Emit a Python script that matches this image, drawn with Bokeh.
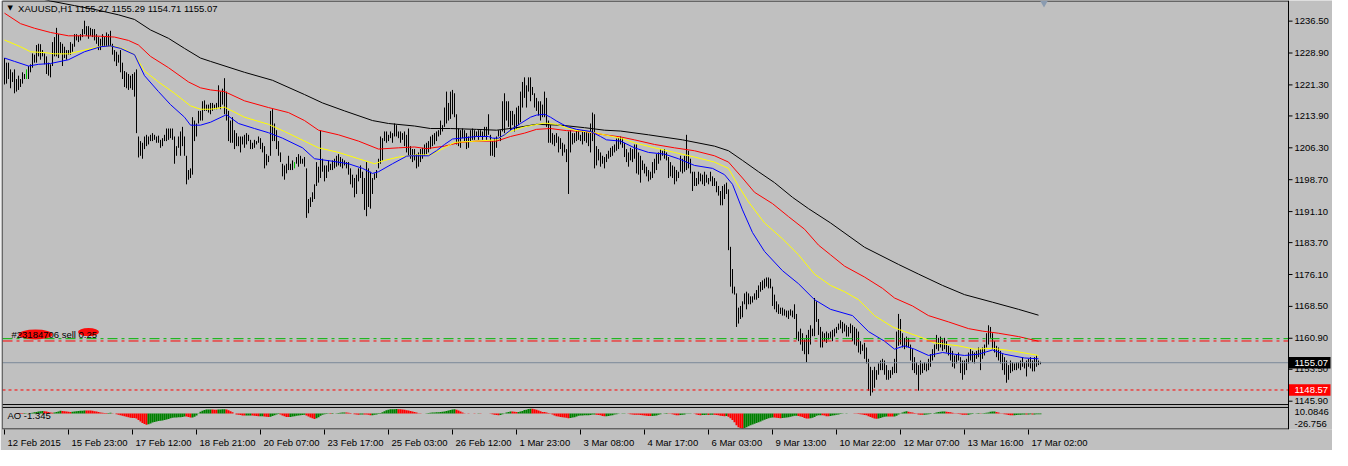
import numpy as np
import pandas as pd
from bokeh.plotting import figure
from bokeh.models import Range1d, FixedTicker, Span, Label
from bokeh.core.properties import value
from bokeh.embed import file_html
from bokeh.resources import INLINE

# ---------------- data ----------------
symbol_title = "XAUUSD,H1  1155.27 1155.29 1154.71 1155.07"
ao_title = "AO -1.345"

highs = [
    1227.7, 1226.6, 1226.6, 1225.0, 1224.3, 1225.0, 1222.7, 1223.5, 1222.7, 1224.3,
    1223.9, 1225.0, 1225.8, 1226.2, 1228.8, 1228.5, 1230.8, 1231.1, 1231.0, 1229.6,
    1228.8, 1228.1, 1226.6, 1226.2, 1231.5, 1232.7, 1234.9, 1233.4, 1231.5, 1231.1,
    1230.4, 1229.6, 1229.6, 1231.5, 1231.1, 1233.4, 1233.4, 1233.0, 1233.4, 1234.6,
    1236.6, 1235.3, 1235.3, 1234.9, 1234.6, 1234.6, 1233.4, 1232.7, 1232.3, 1233.4,
    1232.7, 1233.8, 1233.4, 1234.2, 1231.1, 1229.6, 1229.2, 1228.5, 1229.6, 1226.6,
    1224.6, 1224.3, 1223.9, 1223.5, 1223.9, 1224.3, 1225.0, 1209.0, 1207.9, 1207.5,
    1209.0, 1209.4, 1209.0, 1209.4, 1209.8, 1209.4, 1209.0, 1209.2, 1208.2, 1208.6,
    1209.4, 1210.9, 1210.9, 1210.9, 1210.9, 1209.0, 1206.7, 1209.0, 1210.2, 1211.3,
    1209.0, 1204.4, 1201.0, 1201.4, 1213.6, 1212.8, 1212.1, 1215.1, 1215.1, 1217.4,
    1217.6, 1216.6, 1216.6, 1217.0, 1217.0, 1216.6, 1217.0, 1221.2, 1219.7, 1220.4,
    1222.9, 1219.7, 1215.1, 1212.8, 1213.6, 1210.5, 1209.8, 1209.0, 1209.0, 1209.0,
    1209.4, 1209.8, 1209.4, 1208.2, 1207.5, 1208.2, 1207.9, 1209.0, 1208.6, 1207.5,
    1206.7, 1204.8, 1204.4, 1215.1, 1215.5, 1212.1, 1210.5, 1207.9, 1205.2, 1202.5,
    1202.1, 1202.5, 1204.4, 1202.5, 1203.3, 1202.9, 1204.1, 1204.8, 1204.4, 1203.7,
    1204.1, 1201.4, 1194.1, 1194.5, 1195.7, 1197.6, 1202.9, 1201.8, 1210.5, 1203.7,
    1202.1, 1202.1, 1203.3, 1202.5, 1203.3, 1203.7, 1204.4, 1204.8, 1204.1, 1203.7,
    1203.3, 1202.9, 1202.9, 1201.4, 1199.9, 1199.1, 1199.9, 1201.4, 1202.1, 1200.6,
    1199.1, 1202.9, 1201.4, 1200.6, 1199.1, 1200.2, 1201.0, 1203.7, 1209.0, 1208.6,
    1210.2, 1210.2, 1209.4, 1210.2, 1209.8, 1212.1, 1211.7, 1210.2, 1210.2, 1209.8,
    1210.2, 1209.4, 1210.9, 1206.7, 1206.0, 1206.0, 1204.8, 1205.2, 1206.0, 1206.3,
    1207.1, 1207.5, 1207.9, 1209.0, 1209.4, 1209.8, 1210.2, 1210.5, 1212.8, 1211.7,
    1215.9, 1219.7, 1217.0, 1219.7, 1220.1, 1219.3, 1214.3, 1210.9, 1210.5, 1210.9,
    1210.5, 1209.8, 1209.0, 1210.5, 1210.9, 1210.5, 1210.2, 1210.5, 1210.5, 1210.2,
    1211.3, 1211.3, 1214.3, 1209.4, 1207.9, 1208.6, 1209.0, 1210.5, 1210.5, 1217.4,
    1219.3, 1217.4, 1217.4, 1215.1, 1215.1, 1214.3, 1215.9, 1216.3, 1219.7, 1222.0,
    1223.1, 1221.2, 1223.1, 1223.1, 1220.8, 1219.3, 1218.2, 1217.4, 1217.4, 1216.6,
    1219.7, 1218.2, 1212.8, 1211.7, 1209.8, 1209.4, 1209.8, 1209.0, 1208.6, 1207.5,
    1207.1, 1206.0, 1210.2, 1210.5, 1209.8, 1209.8, 1210.5, 1210.5, 1209.4, 1210.5,
    1210.2, 1210.2, 1209.8, 1212.1, 1214.7, 1214.3, 1206.7, 1206.0, 1205.2, 1204.4,
    1204.1, 1204.8, 1205.6, 1206.3, 1206.7, 1207.1, 1208.5, 1208.6, 1209.0, 1208.6,
    1207.5, 1206.0, 1205.2, 1206.3, 1206.0, 1207.1, 1207.1, 1205.2, 1204.4, 1203.3,
    1202.5, 1201.8, 1201.0, 1200.6, 1202.9, 1203.7, 1204.8, 1205.2, 1206.0, 1205.6,
    1206.0, 1205.2, 1204.1, 1202.9, 1202.1, 1201.8, 1201.0, 1200.6, 1204.4, 1203.7,
    1204.4, 1209.4, 1205.6, 1203.7, 1200.6, 1200.6, 1199.1, 1200.6, 1200.2, 1199.9,
    1200.6, 1199.9, 1199.1, 1200.6, 1199.5, 1199.1, 1198.3, 1197.2, 1196.0, 1197.2,
    1197.6, 1198.0, 1196.4, 1182.7, 1177.4, 1173.2, 1171.6, 1168.2, 1168.6, 1169.7,
    1171.6, 1172.0, 1171.6, 1170.9, 1170.9, 1171.6, 1172.4, 1173.5, 1174.3, 1174.7,
    1175.1, 1175.4, 1175.4, 1175.1, 1173.2, 1171.3, 1169.7, 1169.0, 1168.2, 1168.2,
    1167.8, 1167.5, 1167.5, 1167.8, 1167.5, 1169.0, 1166.7, 1162.5, 1163.2, 1162.1,
    1160.6, 1161.7, 1162.9, 1164.0, 1163.2, 1170.5, 1169.7, 1165.5, 1163.6, 1162.5,
    1162.1, 1162.5, 1162.1, 1162.5, 1162.9, 1163.2, 1163.6, 1164.4, 1165.2, 1164.8,
    1164.4, 1164.0, 1163.6, 1164.4, 1164.0, 1163.6, 1163.2, 1162.5, 1160.2, 1159.4,
    1159.8, 1158.7, 1156.0, 1154.1, 1153.3, 1154.1, 1153.3, 1154.9, 1155.6, 1156.0,
    1155.6, 1154.5, 1153.3, 1153.3, 1154.1, 1156.0, 1162.5, 1166.7, 1165.5, 1162.1,
    1161.0, 1161.3, 1161.0, 1159.4, 1158.3, 1156.4, 1155.2, 1154.5, 1155.6, 1154.9,
    1155.2, 1154.9, 1156.0, 1157.1, 1158.3, 1159.4, 1161.7, 1161.0, 1161.3, 1160.6,
    1161.0, 1160.2, 1159.1, 1158.7, 1157.9, 1156.8, 1157.1, 1157.5, 1156.4, 1155.6,
    1155.6, 1156.0, 1157.5, 1158.3, 1157.9, 1157.5, 1157.9, 1158.7, 1158.3, 1158.7,
    1159.4, 1162.1, 1164.0, 1163.6, 1162.1, 1160.2, 1159.1, 1158.7, 1157.9, 1157.1,
    1156.4, 1155.6, 1154.5, 1155.6, 1155.2, 1154.9, 1155.2, 1155.2, 1155.6, 1156.4,
    1155.2, 1155.6, 1156.0, 1156.4, 1155.6, 1156.4, 1156.8, 1155.6, 1155.29,
]

lows = [
    1221.4, 1221.6, 1222.7, 1220.5, 1222.0, 1219.3, 1219.7, 1220.1, 1220.8, 1221.6,
    1222.7, 1222.7, 1222.7, 1224.3, 1225.4, 1226.6, 1226.6, 1228.1, 1227.3, 1228.1,
    1226.2, 1223.9, 1223.5, 1223.1, 1225.8, 1228.1, 1228.1, 1227.7, 1228.8, 1225.8,
    1227.7, 1227.3, 1228.5, 1228.5, 1229.2, 1230.4, 1231.9, 1231.5, 1231.9, 1232.7,
    1233.4, 1233.0, 1232.3, 1233.0, 1232.7, 1231.9, 1231.1, 1229.6, 1229.6, 1230.4,
    1230.4, 1230.4, 1230.4, 1230.4, 1228.5, 1226.9, 1225.8, 1226.6, 1224.3, 1222.7,
    1220.8, 1220.5, 1220.1, 1220.5, 1220.1, 1218.5, 1209.8, 1204.0, 1204.4, 1203.7,
    1206.0, 1206.7, 1207.1, 1207.9, 1207.9, 1208.2, 1207.5, 1207.5, 1206.3, 1206.7,
    1207.9, 1207.9, 1208.2, 1208.6, 1208.2, 1202.5, 1204.4, 1206.3, 1204.4, 1206.7,
    1204.4, 1197.6, 1198.7, 1199.1, 1199.9, 1207.9, 1209.0, 1212.1, 1212.8, 1212.8,
    1215.1, 1215.1, 1214.7, 1214.3, 1215.1, 1215.5, 1215.5, 1215.9, 1215.5, 1216.6,
    1214.3, 1212.8, 1207.9, 1207.5, 1207.5, 1206.0, 1206.7, 1206.7, 1205.2, 1207.1,
    1206.3, 1207.1, 1207.9, 1206.0, 1206.0, 1206.3, 1207.1, 1207.5, 1206.0, 1205.2,
    1201.4, 1202.1, 1202.9, 1204.4, 1207.9, 1207.9, 1206.0, 1204.4, 1202.9, 1199.5,
    1198.7, 1200.2, 1201.0, 1201.0, 1201.0, 1201.4, 1202.5, 1201.8, 1202.5, 1202.5,
    1201.8, 1189.6, 1190.7, 1192.2, 1193.4, 1194.1, 1197.2, 1198.0, 1199.1, 1200.6,
    1198.3, 1199.1, 1200.6, 1201.0, 1201.0, 1201.4, 1201.8, 1202.1, 1201.8, 1201.4,
    1202.1, 1201.4, 1199.9, 1197.6, 1196.8, 1194.5, 1195.3, 1198.3, 1199.1, 1195.3,
    1191.5, 1190.0, 1192.2, 1191.8, 1195.3, 1198.7, 1199.1, 1201.4, 1202.5, 1203.3,
    1207.9, 1207.5, 1207.9, 1208.6, 1207.5, 1209.0, 1209.0, 1208.6, 1207.5, 1208.2,
    1206.7, 1205.2, 1204.4, 1203.7, 1202.9, 1203.3, 1201.4, 1201.8, 1202.9, 1203.7,
    1204.4, 1204.8, 1205.2, 1206.0, 1206.7, 1207.1, 1207.9, 1209.0, 1209.4, 1210.2,
    1211.3, 1212.1, 1212.8, 1213.2, 1214.3, 1213.6, 1207.1, 1206.7, 1206.3, 1208.6,
    1207.9, 1206.0, 1206.3, 1207.9, 1208.2, 1208.2, 1209.0, 1208.2, 1209.0, 1208.2,
    1209.0, 1208.2, 1209.4, 1204.4, 1204.4, 1204.1, 1206.3, 1209.0, 1207.9, 1210.2,
    1209.8, 1212.8, 1211.3, 1210.5, 1211.7, 1210.2, 1210.9, 1211.7, 1212.4, 1215.9,
    1218.2, 1215.9, 1219.7, 1217.4, 1218.9, 1215.9, 1215.1, 1214.0, 1212.8, 1213.6,
    1213.6, 1211.3, 1207.5, 1207.5, 1207.1, 1206.7, 1207.5, 1205.2, 1206.0, 1204.4,
    1205.2, 1202.9, 1195.3, 1205.2, 1207.1, 1207.5, 1207.9, 1208.2, 1207.9, 1207.1,
    1207.9, 1207.5, 1206.7, 1205.2, 1207.9, 1201.4, 1202.1, 1203.3, 1201.8, 1202.5,
    1201.4, 1202.9, 1203.7, 1204.1, 1204.4, 1205.2, 1205.6, 1206.0, 1207.1, 1206.3,
    1204.1, 1202.9, 1201.8, 1203.3, 1202.9, 1203.7, 1200.2, 1199.9, 1198.0, 1201.0,
    1200.2, 1199.5, 1198.3, 1198.7, 1199.1, 1200.2, 1201.0, 1202.5, 1203.3, 1204.4,
    1203.7, 1203.3, 1199.1, 1199.5, 1199.1, 1197.6, 1198.3, 1199.1, 1200.6, 1200.2,
    1200.6, 1201.0, 1201.4, 1200.2, 1196.0, 1197.2, 1197.2, 1197.6, 1198.3, 1197.6,
    1197.2, 1198.0, 1197.6, 1198.3, 1197.2, 1197.2, 1195.7, 1194.9, 1192.6, 1192.6,
    1194.1, 1195.3, 1181.9, 1173.2, 1171.6, 1171.3, 1163.6, 1164.4, 1165.5, 1165.9,
    1169.0, 1167.8, 1169.0, 1169.0, 1169.4, 1170.1, 1170.1, 1170.5, 1172.0, 1172.4,
    1172.8, 1173.2, 1172.8, 1172.8, 1168.6, 1167.8, 1167.1, 1166.7, 1166.7, 1166.3,
    1166.3, 1165.9, 1165.5, 1166.3, 1165.9, 1165.5, 1160.6, 1160.2, 1159.4, 1157.9,
    1157.1, 1155.2, 1157.1, 1159.4, 1161.4, 1161.4, 1164.8, 1161.7, 1158.7, 1158.7,
    1160.2, 1159.8, 1160.6, 1161.0, 1160.2, 1161.3, 1162.1, 1162.9, 1163.2, 1162.1,
    1162.5, 1161.3, 1161.3, 1162.1, 1160.2, 1159.4, 1159.1, 1157.5, 1157.1, 1157.9,
    1156.0, 1154.9, 1148.4, 1147.2, 1148.0, 1149.1, 1151.0, 1152.2, 1153.3, 1153.3,
    1152.2, 1151.0, 1151.0, 1151.4, 1152.2, 1152.6, 1152.6, 1159.1, 1159.4, 1158.7,
    1158.3, 1158.7, 1158.7, 1155.6, 1153.3, 1152.6, 1152.2, 1148.4, 1152.2, 1152.6,
    1153.3, 1153.0, 1153.3, 1154.1, 1155.6, 1156.4, 1158.3, 1157.9, 1158.7, 1157.9,
    1158.3, 1157.5, 1156.8, 1155.6, 1154.1, 1153.7, 1154.9, 1155.6, 1152.6, 1151.0,
    1152.2, 1153.3, 1154.9, 1155.6, 1155.2, 1154.9, 1156.0, 1156.4, 1153.3, 1156.0,
    1156.8, 1158.7, 1159.4, 1161.0, 1158.3, 1157.5, 1156.4, 1155.6, 1154.9, 1153.3,
    1152.2, 1150.3, 1151.0, 1152.6, 1153.0, 1153.3, 1153.3, 1153.7, 1153.3, 1154.1,
    1153.7, 1151.8, 1154.1, 1153.7, 1153.0, 1153.0, 1154.1, 1154.5, 1154.71,
]

doji_bars = [11, 145]

# moving averages (bar index, price)
ma_blue_x = [0, 5, 12, 17, 23, 32, 40, 48, 53, 58, 65, 70, 77, 83, 90, 93, 98, 103, 111, 117,
             125, 132, 139, 149, 155, 164, 172, 179, 184, 187, 194, 201,
             203, 212, 216, 220, 224, 236, 242, 244, 247, 250, 253, 258, 263, 266, 270, 273,
             276, 281, 286, 293, 298, 301, 308,
             315, 322, 330, 337, 345, 354, 360, 364, 369, 374, 380, 389, 397, 405, 413, 424,
             432, 440, 445, 450, 455, 462, 469, 475, 480, 487, 494, 500, 510, 517]
ma_blue_y = [1227.7, 1226.9, 1225.8, 1226.2, 1226.4, 1227.3, 1229.2, 1230.4, 1230.6, 1230.0,
             1228.5, 1223.5, 1219.7, 1216.6, 1213.6, 1211.7, 1211.7, 1212.4, 1214.2, 1212.1,
             1210.9, 1209.9, 1208.6, 1206.3, 1203.7, 1203.1, 1202.5, 1201.4, 1200.2, 1200.6,
             1202.5, 1204.3,
             1204.4, 1204.4, 1205.6, 1207.1, 1208.4, 1209.0, 1209.0, 1208.6, 1208.6, 1209.4,
             1210.5, 1212.1, 1213.6, 1214.1, 1214.3, 1213.6, 1212.7, 1211.4, 1210.7, 1210.2,
             1209.0, 1208.2, 1207.9,
             1206.3, 1205.2, 1204.8, 1203.7, 1202.1, 1201.4, 1199.9, 1197.6, 1191.5, 1186.1,
             1181.6, 1177.0, 1173.9, 1170.1, 1167.8, 1166.3, 1162.5, 1160.2, 1158.3, 1159.1,
             1158.3, 1156.8, 1157.5, 1157.1, 1156.8, 1157.1, 1158.1, 1157.1, 1156.2, 1156.0]

ma_yellow_x = [0, 8, 13, 20, 25, 32, 40, 48, 55, 60, 65, 70, 77, 85, 93, 98, 103, 110, 120, 132,
               140, 150, 157, 167, 177, 185, 190, 197, 206, 213, 220, 225, 236, 246, 253, 260,
               270, 276, 285, 296, 308, 315, 325, 335, 345, 355, 362, 367, 372, 380, 389, 397,
               405, 413, 420, 427, 435, 444, 450, 459, 465, 477, 485, 494, 504, 517]
ma_yellow_y = [1232.0, 1230.4, 1229.2, 1229.0, 1228.7, 1228.7, 1229.6, 1230.5, 1230.5, 1229.8,
               1228.5, 1224.6, 1222.0, 1219.3, 1216.3, 1215.5, 1215.5, 1216.0, 1213.6, 1211.9,
               1210.2, 1207.9, 1206.3, 1205.2, 1203.7, 1202.5, 1203.3, 1204.1, 1204.6, 1204.6,
               1206.3, 1207.6, 1207.9, 1208.2, 1210.2, 1211.3, 1212.2, 1211.9, 1210.5, 1209.8,
               1208.6, 1207.5, 1206.3, 1205.2, 1204.1, 1202.9, 1201.4, 1197.2, 1193.4, 1188.4,
               1184.6, 1180.8, 1176.2, 1173.5, 1172.0, 1170.1, 1166.3, 1163.6, 1162.5, 1161.0,
               1159.8, 1159.1, 1158.3, 1158.5, 1157.9, 1156.8]

ma_red_x = [0, 8, 15, 23, 32, 40, 48, 55, 62, 67, 73, 82, 92, 98, 103, 110, 120, 132, 142, 150,
            157, 167, 177, 187, 197, 205, 211, 220, 228, 236, 246, 253, 260, 266, 273, 281, 290,
            300, 308, 315, 325, 335, 345, 355, 362, 369, 375, 384, 392, 400, 407, 413, 420, 430,
            439, 445, 454, 462, 472, 482, 489, 497, 507, 517]
ma_red_y = [1238.4, 1235.9, 1234.8, 1233.8, 1233.0, 1233.0, 1232.9, 1232.7, 1231.9, 1230.8,
            1228.1, 1225.4, 1222.0, 1220.6, 1220.1, 1219.7, 1217.5, 1215.9, 1214.7, 1212.8,
            1210.5, 1209.4, 1207.9, 1206.0, 1206.3, 1206.5, 1206.1, 1206.7, 1207.6, 1207.9,
            1207.9, 1209.0, 1209.8, 1210.7, 1210.9, 1210.4, 1210.2, 1209.4, 1208.9, 1208.2,
            1207.1, 1206.3, 1205.6, 1204.4, 1202.9, 1199.1, 1195.7, 1193.0, 1189.9, 1186.9,
            1183.1, 1180.8, 1178.1, 1175.5, 1172.8, 1170.5, 1168.6, 1166.3, 1164.8, 1163.2,
            1162.6, 1162.1, 1161.3, 1160.2]

ma_black_x = [0, 10, 23, 35, 45, 57, 65, 73, 82, 90, 98, 103, 120, 134, 150, 159, 170, 184, 192,
              205, 213, 223, 236, 246, 256, 266, 278, 290, 300, 308, 322, 339, 355, 362, 369,
              377, 385, 394, 402, 413, 430, 447, 457, 469, 480, 494, 507, 517]
ma_black_y = [1243.5, 1242.8, 1241.3, 1240.2, 1239.3, 1238.0, 1236.9, 1234.4, 1232.4, 1230.0,
              1227.7, 1226.9, 1224.3, 1222.4, 1219.0, 1217.0, 1215.1, 1212.8, 1212.1, 1211.5,
              1210.9, 1210.9, 1210.7, 1210.5, 1211.1, 1211.9, 1211.7, 1211.1, 1210.5, 1210.3,
              1209.4, 1208.2, 1206.7, 1205.6, 1203.3, 1200.6, 1198.0, 1194.5, 1191.8, 1188.4,
              1182.6, 1178.5, 1176.2, 1173.5, 1171.3, 1169.5, 1167.8, 1166.4]

price_ticks = [1236.50, 1228.90, 1221.30, 1213.90, 1206.30, 1198.70, 1191.10,
               1183.70, 1176.10, 1168.50, 1160.90, 1153.50, 1145.90]

time_labels = ["12 Feb 2015", "15 Feb 23:00", "17 Feb 12:00", "18 Feb 21:00", "20 Feb 07:00",
               "23 Feb 17:00", "25 Feb 03:00", "26 Feb 12:00", "1 Mar 23:00", "3 Mar 08:00",
               "4 Mar 17:00", "6 Mar 03:00", "9 Mar 13:00", "10 Mar 22:00", "12 Mar 07:00",
               "13 Mar 16:00", "17 Mar 02:00"]
time_label_every = 32  # bars between time labels

bid_price = 1155.07
sl_price = 1148.57
order_price_green = 1160.80
order_price_red = 1160.25
order_text = "#23184706 sell 0.25"
ao_max, ao_min = 10.0846, -26.756
ao_max_label, ao_min_label = "10.0846", "-26.756"

# ---------------- layout / style ----------------
BG = "#c0c0c0"
FONT = "Liberation Sans"
FS = "9.5px"
W, H = 1332, 450
MIN_L, MIN_T = 2, 0
FRAME_W = W - MIN_L
PX_PER_BAR = 2
X0 = -1.0                        # left edge of the frame in bar units
N_SLOTS = FRAME_W / PX_PER_BAR
X_LEFT = X0                      # left border line
X_AXIS = X_LEFT + 643            # price-scale line

# reference geometry (pixel rows in the 466 px tall reference)
ref_px_per_usd = (422.5 - 26.5) / (1236.50 - 1145.90)


def price_at(ypx):
    return 1236.50 - (ypx - 26.5) / ref_px_per_usd


y_end = price_at(5)
y_start = price_at(452)
main_bottom = price_at(426)
ao_per_px = (ao_max - ao_min) / (452 - 429)
ao_start = ao_min
ao_end = ao_min + (452 - 5) * ao_per_px

p = figure(width=W, height=H, x_range=Range1d(X0, X0 + N_SLOTS),
           y_range=Range1d(y_start, y_end), y_axis_location=None,
           toolbar_location=None, output_backend="svg",
           background_fill_color=BG, border_fill_color=BG, outline_line_color=None,
           min_border_left=MIN_L, min_border_right=0, min_border_top=MIN_T,
           min_border_bottom=4)
p.extra_y_ranges = {"ao": Range1d(ao_start, ao_end)}
p.grid.visible = False

# price bars
idx = np.arange(len(highs))
bar_colors = ["#00c800" if i in doji_bars else "black" for i in idx]
p.segment(x0=idx, y0=lows, x1=idx, y1=highs, line_color=bar_colors, line_width=1)

# moving averages
for xs, ys, col in [(ma_black_x, ma_black_y, "black"), (ma_red_x, ma_red_y, "#ff0000"),
                    (ma_yellow_x, ma_yellow_y, "#ffff00"), (ma_blue_x, ma_blue_y, "#0000ff")]:
    p.line(xs, ys, line_color=col, line_width=1)

# horizontal level lines (stop at the price scale)
levels = [(bid_price, "#7a8899", "solid"), (sl_price, "#ff0000", "3 3"),
          (order_price_red, "#ff0000", "10 4 3 4"), (order_price_green, "#00b400", "10 4 3 4")]
for lv, col, dash in levels:
    p.segment(x0=[X_LEFT], y0=[lv], x1=[X_AXIS], y1=[lv], line_color=col, line_width=1,
              line_dash=dash)

# Awesome Oscillator computed from the bars
med = (np.array(highs) + np.array(lows)) / 2.0
s = pd.Series(med)
ao = (s.rolling(5, min_periods=1).mean() - s.rolling(34, min_periods=1).mean()).to_numpy()
ao_colors = ["#008000" if (i > 0 and ao[i] > ao[i - 1]) else "#ff0000" for i in idx]
ao_draw = np.clip(ao, ao_min, ao_max)
p.vbar(x=idx, top=ao_draw, bottom=0, width=1.0, fill_color=ao_colors, line_color=None,
       y_range_name="ao")

# panel frames
half_px_usd = 0.5 / ref_px_per_usd
frame_rows = [price_at(5) - half_px_usd, main_bottom, price_at(429), price_at(452) + half_px_usd]
for fy in frame_rows:
    p.segment(x0=[X_LEFT], y0=[fy], x1=[X_AXIS], y1=[fy], line_color="black", line_width=1)
p.add_layout(Span(location=X_LEFT, dimension="height", line_color="black", line_width=1))
p.add_layout(Span(location=X_AXIS, dimension="height", line_color="black", line_width=1))

# price scale (ticks + labels to the right of the scale line)
tick_texts = [f"{t:.2f}" for t in price_ticks]
p.segment(x0=[X_AXIS] * len(price_ticks), y0=price_ticks,
          x1=[X_AXIS + 2] * len(price_ticks), y1=price_ticks, line_color="black", line_width=1)
p.text(x=[X_AXIS + 3] * len(price_ticks), y=price_ticks, text=tick_texts,
       text_font=value(FONT), text_font_size=value(FS), text_baseline="middle",
       text_align="left", text_color="black")
p.text(x=[X_AXIS + 3, X_AXIS + 3], y=[price_at(434), price_at(446)],
       text=[ao_max_label, ao_min_label], text_font=value(FONT), text_font_size=value(FS),
       text_baseline="middle", text_align="left", text_color="black")

# current price / stop boxes on the scale
box_half = 6.0 / ref_px_per_usd
box_prices = [bid_price, sl_price]
box_colors = ["black", "#ff0000"]
p.quad(left=[X_AXIS] * 2, right=[X_AXIS + 21] * 2,
       top=[v + box_half for v in box_prices], bottom=[v - box_half for v in box_prices],
       fill_color=box_colors, line_color=None)
p.text(x=[X_AXIS + 3] * 2, y=box_prices, text=[f"{v:.2f}" for v in box_prices],
       text_font=value(FONT), text_font_size=value(FS), text_baseline="middle",
       text_align="left", text_color="white")

# bottom time axis: labels start just right of their tick marks
CW = {" ": 0.278, ":": 0.278, "F": 0.611, "M": 0.833, "e": 0.556, "b": 0.556, "a": 0.556,
      "r": 0.333}
tick_bars = [i * time_label_every for i in range(len(time_labels))]
centers = []
for t, txt in zip(tick_bars, time_labels):
    wpx = sum(CW.get(c, 0.556) for c in txt) * 9.5
    centers.append(round(t + (3 + wpx / 2) / PX_PER_BAR, 3))
xax = p.xaxis[0]
xax.ticker = FixedTicker(ticks=centers, minor_ticks=tick_bars)
xax.major_label_overrides = {c: t for c, t in zip(centers, time_labels)}
xax.major_tick_line_color = None
xax.major_tick_out = 0
xax.major_tick_in = 0
xax.minor_tick_line_color = "black"
xax.minor_tick_out = 5
xax.minor_tick_in = 0
xax.axis_line_color = None
xax.major_label_standoff = 2
xax.major_label_text_font = FONT
xax.major_label_text_font_size = FS
xax.major_label_text_color = "black"

# chart title and indicator title
p.add_layout(Label(x=1.5, y=price_at(13), text="\u25bc", text_font="DejaVu Sans",
                   text_font_size="7px", text_baseline="middle", text_color="black"))
p.add_layout(Label(x=6.8, y=price_at(13), text=symbol_title, text_font=FONT,
                   text_font_size=FS, text_baseline="middle", text_color="black"))
p.add_layout(Label(x=1.5, y=price_at(437.5), text=ao_title, text_font=FONT,
                   text_font_size=FS, text_baseline="middle", text_color="black"))

# order label with redaction blobs
p.add_layout(Label(x=3.5, y=price_at(352.5), text=order_text, text_font=FONT,
                   text_font_size=FS, text_baseline="middle", text_color="black"))
p.ellipse(x=[15.5, 42.0], y=[price_at(353), price_at(350.5)], width=[17.0, 10.5],
          height=[2.4, 1.9], fill_color="#ff0000", line_color=None, fill_alpha=0.95)

# chart shift marker
p.scatter(x=[519.75], y=[price_at(7.5)], marker="inverted_triangle", size=8,
          fill_color="#8a9bb0", line_color=None)

open("out.html", "w").write(file_html(p, INLINE))
